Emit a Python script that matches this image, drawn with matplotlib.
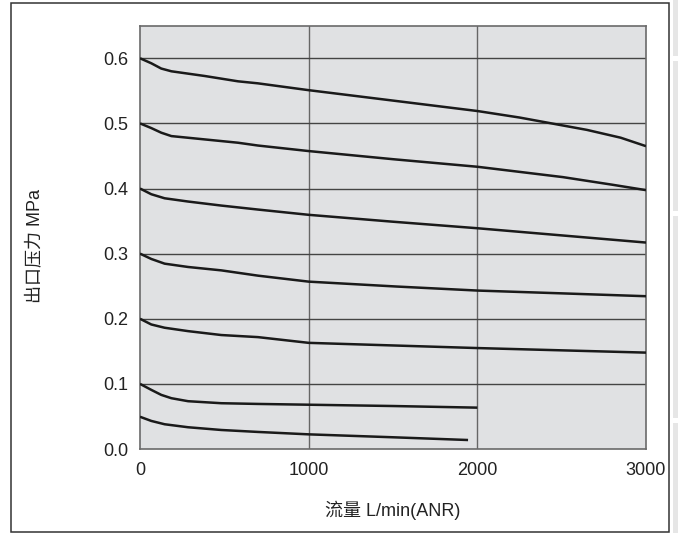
import matplotlib
matplotlib.use("Agg")
import matplotlib.pyplot as plt
from matplotlib.patches import Rectangle

plt.rcParams['font.family'] = ['Liberation Sans', 'Noto Sans CJK SC', 'DejaVu Sans']

# flow L/min(ANR) vs outlet pressure MPa, one list pair per set pressure
flow_06 = [0, 67, 126, 186, 383, 581, 699, 1000, 1500, 2000, 2250, 2450, 2650, 2850, 3000]
pres_06 = [0.600, 0.5923, 0.5842, 0.580, 0.5728, 0.5646, 0.5615, 0.551, 0.535, 0.519, 0.509,
           0.4995, 0.490, 0.478, 0.465]

flow_05 = [0, 67, 126, 186, 383, 581, 699, 1000, 1500, 2000, 2507, 2803, 3000]
pres_05 = [0.500, 0.4928, 0.4857, 0.4805, 0.4754, 0.4703, 0.466, 0.4575, 0.445, 0.4334,
           0.4175, 0.4057, 0.3975]

flow_04 = [0, 67, 146, 285, 482, 699, 1000, 1500, 2000, 2500, 3000]
pres_04 = [0.400, 0.3912, 0.385, 0.380, 0.3738, 0.3677, 0.3596, 0.349, 0.339, 0.328, 0.317]

flow_03 = [0, 67, 146, 285, 482, 699, 1000, 1520, 2000, 2500, 3000]
pres_03 = [0.300, 0.2918, 0.2846, 0.2795, 0.2743, 0.2662, 0.257, 0.2495, 0.2433, 0.239, 0.2346]

flow_02 = [0, 67, 146, 285, 482, 699, 1000, 1500, 2000, 2500, 3000]
pres_02 = [0.200, 0.1912, 0.1862, 0.181, 0.175, 0.1718, 0.163, 0.159, 0.155, 0.1515, 0.148]

flow_01 = [0, 67, 126, 186, 285, 482, 699, 1000, 1500, 2000]
pres_01 = [0.100, 0.0908, 0.0831, 0.078, 0.0734, 0.0703, 0.0692, 0.068, 0.066, 0.0635]

flow_005 = [0, 67, 146, 285, 482, 699, 1000, 1500, 1945]
pres_005 = [0.0495, 0.0431, 0.038, 0.0334, 0.0292, 0.0262, 0.0225, 0.018, 0.0138]

curves = [(flow_06, pres_06), (flow_05, pres_05), (flow_04, pres_04), (flow_03, pres_03),
          (flow_02, pres_02), (flow_01, pres_01), (flow_005, pres_005)]

x_ticks = [0, 1000, 2000, 3000]
y_ticks = [0.0, 0.1, 0.2, 0.3, 0.4, 0.5, 0.6]
y_labels = ['0.0', '0.1', '0.2', '0.3', '0.4', '0.5', '0.6']

W, H = 678, 533
fig = plt.figure(figsize=(W / 100, H / 100), dpi=100)

# outer frame and the grey strip at the right edge
fig.patches.append(Rectangle((11 / W, 1 - 532 / H), (669 - 11) / W, (532 - 3) / H,
                             transform=fig.transFigure, fill=False, edgecolor='#333333', linewidth=1.1))
for y0, y1 in [(0, 56), (61, 211), (216, 418), (423, 533)]:
    fig.patches.append(Rectangle((673 / W, 1 - y1 / H), 5 / W, (y1 - y0) / H,
                                 transform=fig.transFigure, facecolor='#e6e6e6', edgecolor='none'))

ax = fig.add_axes([140 / W, 1 - 449 / H, (646 - 140) / W, (449 - 25.7) / H])
ax.set_facecolor('#e0e1e3')
ax.set_xlim(0, 3000)
ax.set_ylim(0, 0.65)

for x in x_ticks[1:-1]:
    ax.axvline(x, color='#666666', linewidth=1.0, zorder=1)
for y in y_ticks[1:]:
    ax.axhline(y, color='#444444', linewidth=1.0, zorder=1)

for fx, py in curves:
    ax.plot(fx, py, color='#1a1a1a', linewidth=1.8, zorder=3,
            solid_capstyle='butt', solid_joinstyle='round')

for s in ax.spines.values():
    s.set_color('#6a6a6a')
    s.set_linewidth(1.2)

ax.set_xticks(x_ticks)
ax.set_yticks(y_ticks)
ax.set_yticklabels(y_labels)
ax.tick_params(length=0, labelsize=13, colors='#222222')
ax.tick_params(axis='x', pad=9.5)
ax.tick_params(axis='y', pad=8.5)

ax.set_xlabel('流量 L/min(ANR)', fontsize=13, color='#222222')
ax.set_ylabel('出口压力 MPa', fontsize=13, color='#222222')
ax.xaxis.set_label_coords(0.5, (449 - 510) / (449 - 25.7))
ax.xaxis.label.set_va('center')
ax.yaxis.set_label_coords((35 - 140) / (646 - 140), 0.48)
ax.yaxis.label.set_va('center')

fig.savefig('out.png', dpi=100)
